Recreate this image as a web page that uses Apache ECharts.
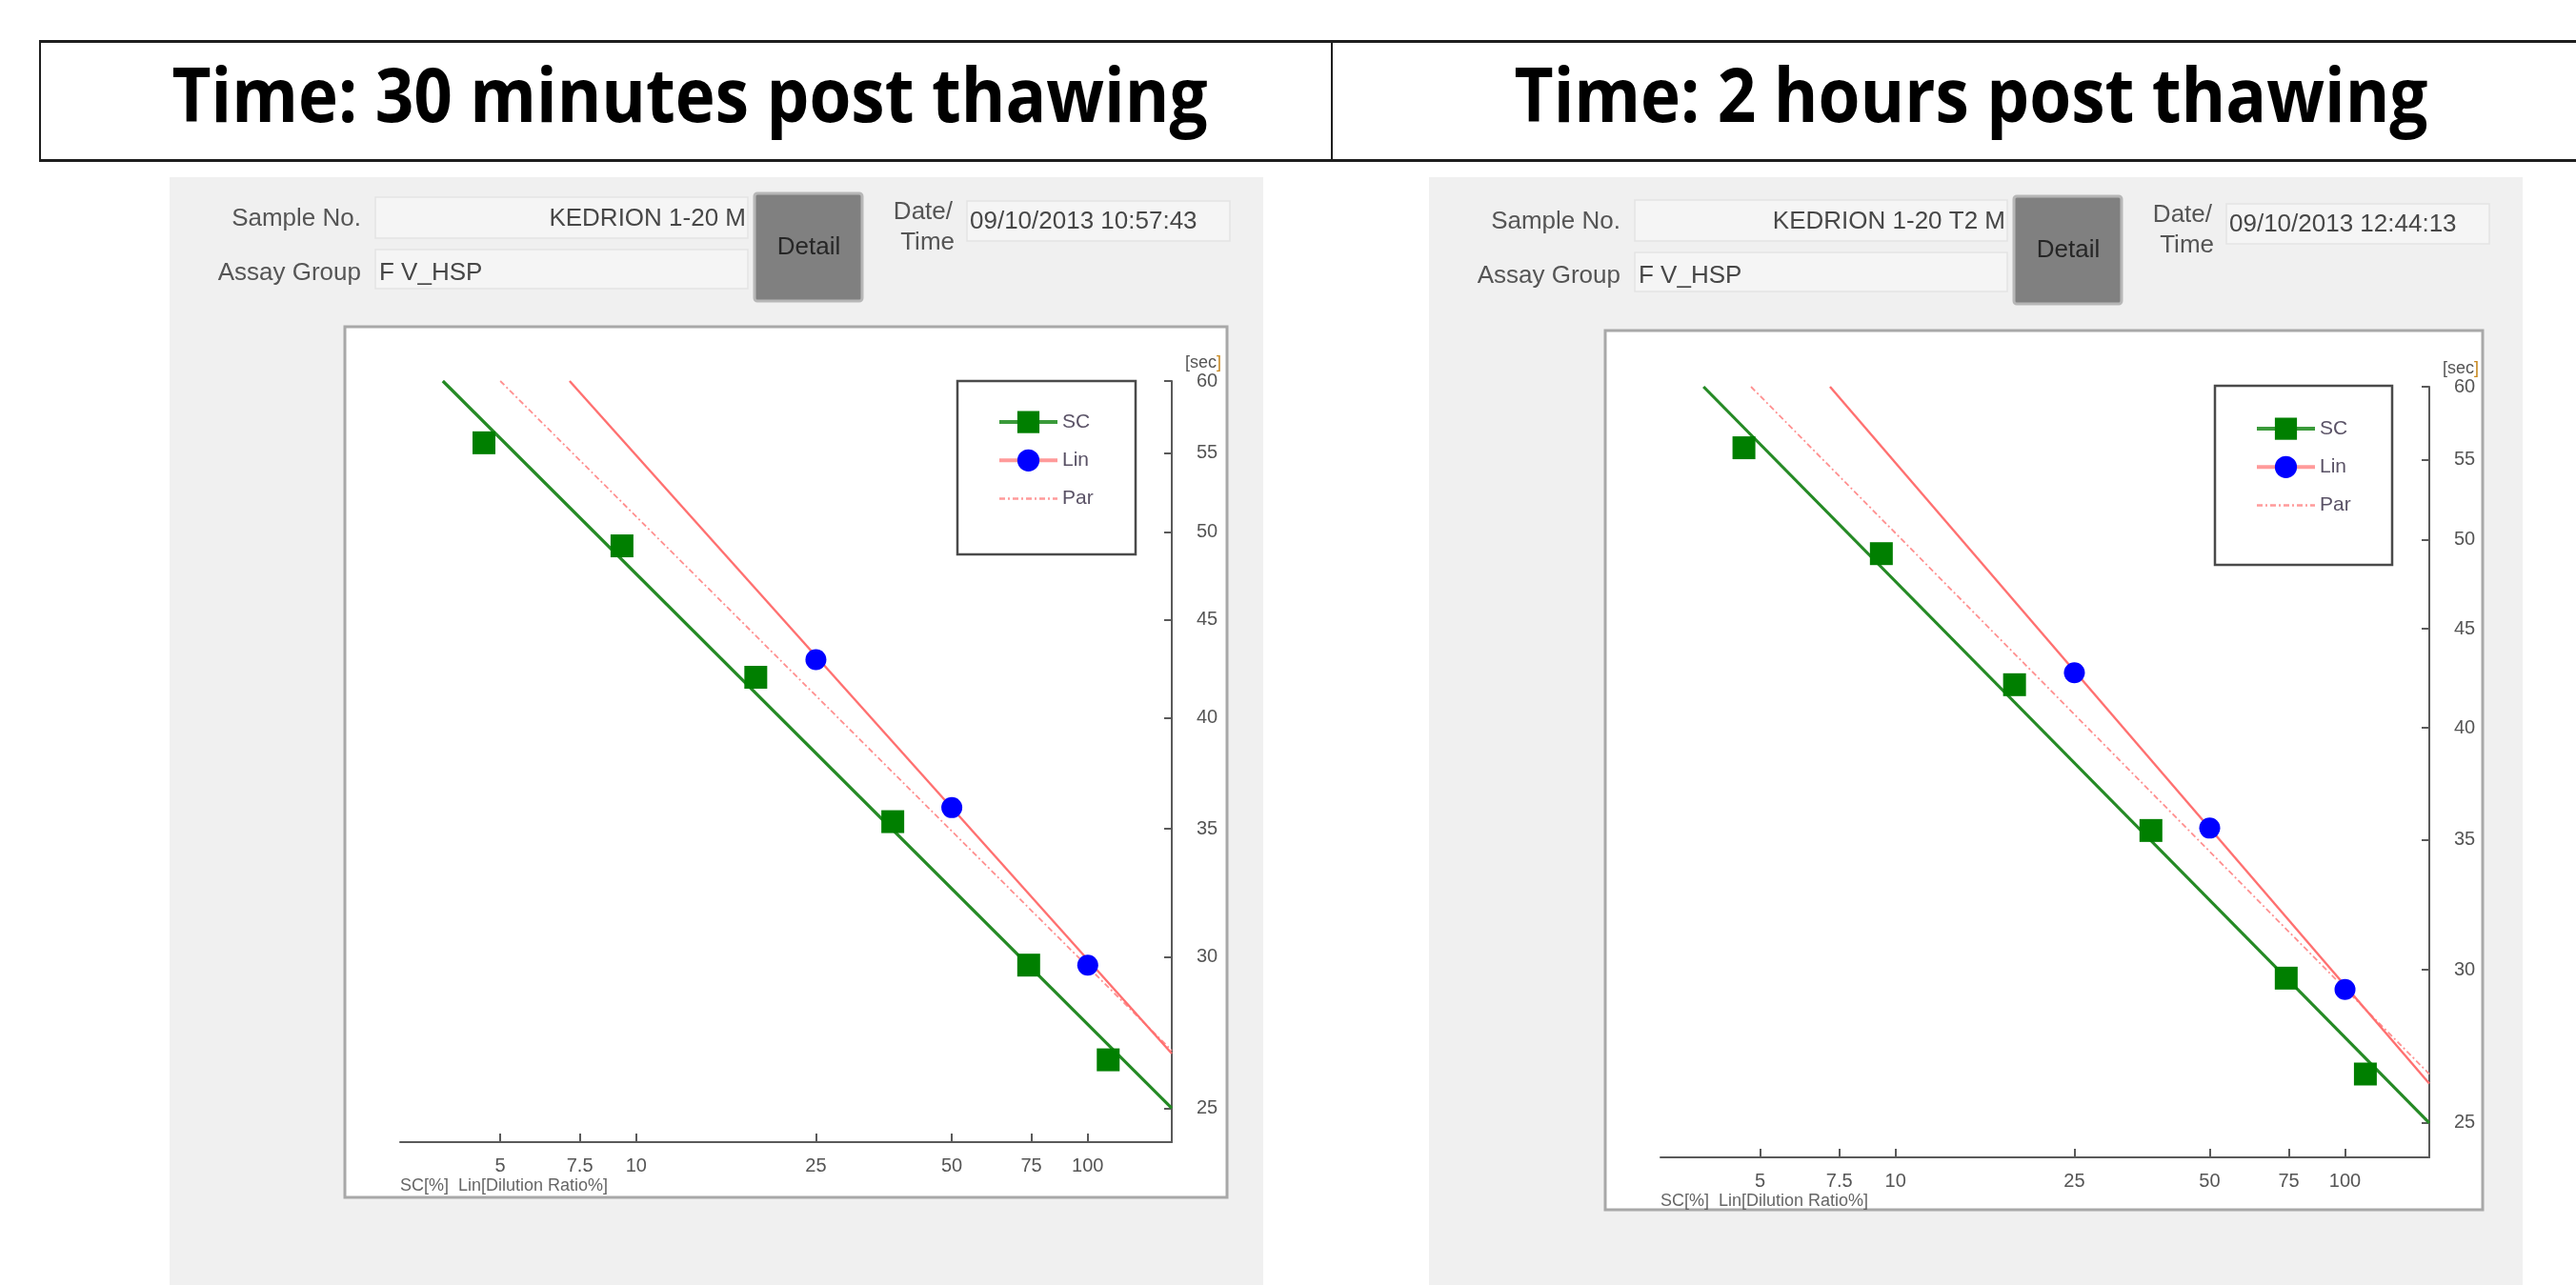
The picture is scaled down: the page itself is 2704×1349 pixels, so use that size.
<!DOCTYPE html>
<html><head><meta charset="utf-8">
<script src="https://cdn.jsdelivr.net/npm/echarts@6/dist/echarts.min.js"></script>
<style>html,body{margin:0;padding:0;background:#fff}#c{width:2704px;height:1349px}</style>
</head><body><div id="c"></div>
<script>
// ---------- data ----------
const titles = ['Time: 30 minutes post thawing', 'Time: 2 hours post thawing'];
const sampleNos = ['KEDRION 1-20 M', 'KEDRION 1-20 T2 M'];
const assayGroups = ['F V_HSP', 'F V_HSP'];
const dateTimes = ['09/10/2013 10:57:43', '09/10/2013 12:44:13'];
const xTicks = [5, 7.5, 10, 25, 50, 75, 100];
const yTicks = [25, 30, 35, 40, 45, 50, 55, 60];
const legendNames = ['SC', 'Lin', 'Par'];

// 30 minutes post thawing
const scPoints30 = [[4.6, 55.7], [9.3, 49.2], [18.4, 42.0], [37, 35.3], [74, 29.7], [111, 26.5]];
const linPoints30 = [[25, 42.9], [50, 35.9], [100, 29.7]];
const scFit30 = [[3.73, 60], [153.5, 25]];
const linFit30 = [[7.12, 60], [153.5, 26.7]];
const parFit30 = [[5.0, 60], [153.5, 26.8]];

// 2 hours post thawing
const scPoints2h = [[4.6, 55.8], [9.3, 49.2], [18.4, 42.1], [37, 35.4], [74, 29.7], [111, 26.5]];
const linPoints2h = [[25, 42.7], [50, 35.5], [100, 29.3]];
const scFit2h = [[3.74, 60], [154, 25]];
const linFit2h = [[7.15, 60], [154, 26.2]];
const parFit2h = [[4.77, 60], [154, 26.5]];

// ---------- layout ----------
const FF = '"Liberation Sans", Arial, sans-serif';
const grids = [
  {left: 420, top: 400, width: 810, height: 799},
  {left: 1743, top: 406, width: 807, height: 809}
];
const xMax = [153.5, 154];
const AX = '#5a5a5a';

function seriesFor(i, scFit, scPts, linFit, linPts, parFit) {
  const base = {xAxisIndex: i, yAxisIndex: i, silent: true, animation: false};
  return [
    Object.assign({name: 'SC', type: 'line', data: scFit, symbol: 'rect', showSymbol: false,
      lineStyle: {color: '#258a25', width: 3.2}, itemStyle: {color: '#007f00'}, z: 3}, base),
    Object.assign({name: 'Lin', type: 'line', data: linFit, symbol: 'circle', showSymbol: false,
      lineStyle: {color: '#ff7070', width: 2.4}, itemStyle: {color: '#0000ff'}, z: 3}, base),
    Object.assign({name: 'Par', type: 'line', data: parFit, symbol: 'none',
      lineStyle: {color: '#ff9090', width: 1.8, type: [6, 3, 2, 3]}, itemStyle: {color: '#ff9090'}, z: 2}, base),
    Object.assign({name: 'SC', type: 'scatter', data: scPts, symbol: 'rect', symbolSize: 24,
      itemStyle: {color: '#007f00', opacity: 1}, z: 5}, base),
    Object.assign({name: 'Lin', type: 'scatter', data: linPts, symbol: 'circle', symbolSize: 22,
      itemStyle: {color: '#0000ff', opacity: 1}, z: 5}, base)
  ];
}

function fitScale(text, font, target) {
  const ctx = document.createElement('canvas').getContext('2d');
  ctx.font = font;
  const w = ctx.measureText(text).width;
  return w > 0 ? target / w : 1;
}

// ---------- graphic (page frame, panels, form fields) ----------
const G = [];
function rect(x, y, w, h, fill, stroke, lw, z, r) {
  G.push({type: 'rect', silent: true, z: (z === undefined ? -10 : z),
    shape: {x: x, y: y, width: w, height: h, r: r || 0},
    style: {fill: fill || 'none', stroke: stroke || null, lineWidth: lw || 0}});
}
function text(x, y, t, opt) {
  const o = Object.assign({align: 'left', color: '#555', font: '26px ' + FF}, opt || {});
  G.push({type: 'text', silent: true, z: 10, x: x, y: y,
    style: {text: t, fill: o.color, font: o.font, textAlign: o.align, align: o.align,
      textVerticalAlign: 'middle', verticalAlign: 'middle'}});
}

// header table
rect(41, 42, 2663, 3, '#1e1e1e');
rect(41, 167, 2663, 3, '#1e1e1e');
rect(41, 42, 2, 128, '#1e1e1e');
rect(1397, 42, 2, 128, '#1e1e1e');
const titleFont = 'bold 78px "Open Sans", sans-serif';
const titleCx = [724, 2069], titleW = [1087, 959];
titles.forEach(function (t, i) {
  const s = fitScale(t, titleFont, titleW[i]);
  G.push({type: 'text', silent: true, z: 10, x: titleCx[i], y: 106, scaleX: s,
    style: {text: t, fill: '#000', font: titleFont, textAlign: 'center', align: 'center',
      textVerticalAlign: 'middle', verticalAlign: 'middle'}});
});

// panels
const panelX = [178, 1500];
const dx = [0, 1322], dy = [0, 3];
[0, 1].forEach(function (i) {
  rect(panelX[i], 186, 1148, 1163, '#f0f0f0');
  const ox = dx[i], oy = dy[i];
  text(379 + ox, 230 + oy, 'Sample No.', {align: 'right'});
  rect(394 + ox, 207 + oy, 391, 43, '#f5f5f5', '#e3e3e3', 1.5, -9);
  text(783 + ox, 230 + oy, sampleNos[i], {align: 'right', color: '#474747'});
  text(379 + ox, 287 + oy, 'Assay Group', {align: 'right'});
  rect(394 + ox, 262 + oy, 391, 41, '#f5f5f5', '#e3e3e3', 1.5, -9);
  text(398 + ox, 287 + oy, assayGroups[i], {color: '#474747'});
  rect(792 + ox, 203 + oy, 113, 113, '#808080', '#b7b7b7', 3, -9, 3);
  text(849 + ox, 260 + oy, 'Detail', {align: 'center', color: '#262626'});
  text(1000 + ox, 223 + oy, 'Date/', {align: 'right'});
  text(1002 + ox, 255 + oy, 'Time', {align: 'right'});
  rect(1015 + ox, 211 + oy, 276, 42, '#f5f5f5', '#e3e3e3', 1.5, -9);
  text(1018 + ox, 233 + oy, dateTimes[i], {color: '#474747'});
});
// plot boxes
rect(362, 343, 926, 914, '#ffffff', '#a8a8a8', 3, -8);
rect(1685, 347, 921, 923, '#ffffff', '#a8a8a8', 3, -8);
// legend frames
rect(1005, 400, 187, 182, '#ffffff', '#4a4a4a', 2.5, -7);
rect(2325, 405, 186, 188, '#ffffff', '#4a4a4a', 2.5, -7);

// ---------- chart ----------
const legendPos = [{left: 1047, top: 431.5}, {left: 2367, top: 438.5}];
const option = {
  animation: false,
  backgroundColor: '#ffffff',
  graphic: {elements: G},
  grid: grids,
  legend: [0, 1].map(function (i) {
    return {
      orient: 'vertical', left: legendPos[i].left, top: legendPos[i].top, padding: 0,
      itemWidth: 61, itemHeight: 29, itemGap: 17, selectedMode: false,
      textStyle: {fontSize: 21, color: '#5a5266', fontFamily: FF},
      data: [
        {name: legendNames[0], lineStyle: {width: 4, color: '#3a9a3a'}},
        {name: legendNames[1], lineStyle: {width: 4, color: '#ff9a9a'}},
        {name: legendNames[2], itemStyle: {opacity: 0}, lineStyle: {width: 2.5, color: '#ff9a9a'}}
      ]
    };
  }),
  xAxis: [0, 1].map(function (i) {
    return {
      type: 'log', logBase: 10, gridIndex: i, min: 3, max: xMax[i],
      axisLine: {show: true, onZero: false, lineStyle: {color: AX, width: 2}},
      axisTick: {show: true, inside: true, length: 9, lineStyle: {color: AX, width: 2}, customValues: xTicks},
      axisLabel: {show: true, customValues: xTicks, fontSize: 20, color: '#555', margin: 15, fontFamily: FF},
      splitLine: {show: false}, minorTick: {show: false}, minorSplitLine: {show: false},
      name: 'SC[%]  Lin[Dilution Ratio%]', nameLocation: 'start', nameGap: 0,
      nameTextStyle: {align: 'left', verticalAlign: 'top', padding: [37, 0, 0, 0], fontSize: 18, color: '#666', fontFamily: FF}
    };
  }),
  yAxis: [0, 1].map(function (i) {
    return {
      type: 'log', logBase: 10, gridIndex: i, min: 24, max: 60, position: 'right',
      axisLine: {show: true, onZero: false, lineStyle: {color: AX, width: 2}},
      axisTick: {show: true, inside: true, length: 8, lineStyle: {color: AX, width: 2}, customValues: yTicks},
      axisLabel: {show: true, customValues: yTicks, fontSize: 20, color: '#555', margin: 26, fontFamily: FF},
      splitLine: {show: false}, minorTick: {show: false}, minorSplitLine: {show: false},
      name: '{a|[sec}{b|]}', nameLocation: 'end', nameGap: 9,
      nameTextStyle: {align: 'left', padding: [0, 0, 0, 14], fontSize: 18, color: '#555', fontFamily: FF,
        rich: {a: {fontSize: 18, color: '#555', fontFamily: FF}, b: {fontSize: 18, color: '#c8881e', fontFamily: FF}}}
    };
  }),
  series: [].concat(
    seriesFor(0, scFit30, scPoints30, linFit30, linPoints30, parFit30),
    seriesFor(1, scFit2h, scPoints2h, linFit2h, linPoints2h, parFit2h)
  )
};
const chart = echarts.init(document.getElementById('c'), null, {renderer: 'canvas'});
chart.setOption(option);
</script>
</body></html>
